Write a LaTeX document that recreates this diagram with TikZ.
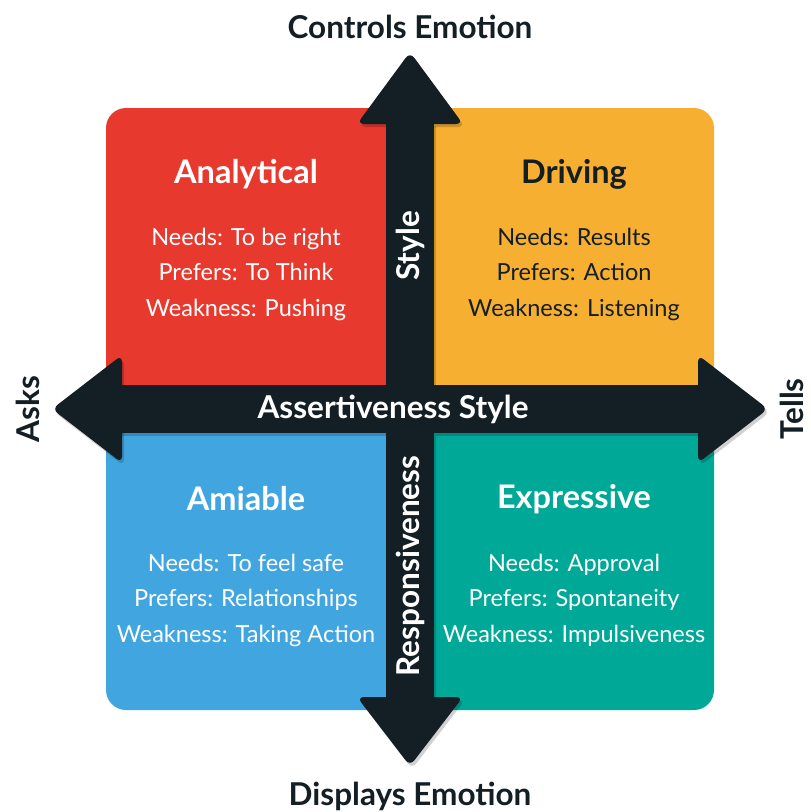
\documentclass[tikz,border=0pt]{standalone}
\usepackage{fontspec}
\setmainfont{Lato}
\usetikzlibrary{positioning}

\definecolor{analred}{HTML}{E8392F}
\definecolor{driveorange}{HTML}{F7AF32}
\definecolor{amiblue}{HTML}{41A6E0}
\definecolor{exprteal}{HTML}{00A898}
\definecolor{ink}{HTML}{131F24}

\begin{document}
\begin{tikzpicture}[x=1pt,y=-1pt,
  title/.style={font=\bfseries\fontsize{32.5}{38}\selectfont, text=#1},
  title/.default=white,
  info/.style={font=\fontsize{23.5}{35.5}\selectfont, text=white, align=center},
  axis/.style={font=\bfseries\fontsize{31.5}{36}\selectfont, text=ink},
  barlabel/.style={font=\bfseries\fontsize{31.5}{36}\selectfont, text=white},
  head/.style={rounded corners=7}]

\useasboundingbox (0,0) rectangle (811,812);

% four quadrants, outer corner rounded
\fill[analred] (410,409) -- (106,409) [rounded corners=20] -- (106,108) -- (410,108) [sharp corners] -- cycle;
\fill[driveorange] (410,409) -- (410,108) [rounded corners=20] -- (714,108) -- (714,409) [sharp corners] -- cycle;
\fill[amiblue] (410,409) -- (106,409) [rounded corners=20] -- (106,710) -- (410,710) [sharp corners] -- cycle;
\fill[exprteal] (410,409) -- (714,409) [rounded corners=20] -- (714,710) -- (410,710) [sharp corners] -- cycle;

% soft shadow under the cross
\begin{scope}[shift={(2,3)}, black, opacity=0.18]
  \fill (120,385) rectangle (700,433);
  \fill (386,123) rectangle (434,385);
  \fill (386,433) rectangle (434,698);
  \fill[head] (357,124) -- (410,52) -- (463,124) -- cycle;
  \fill[head] (357,697) -- (410,766) -- (463,697) -- cycle;
  \fill[head] (122,355) -- (52,409) -- (122,463) -- cycle;
  \fill[head] (698,355) -- (768,409) -- (698,463) -- cycle;
\end{scope}

% the cross with its four heads
\fill[ink] (120,385) rectangle (700,433);
\fill[ink] (386,123) rectangle (434,698);
\fill[ink, head] (357,124) -- (410,52) -- (463,124) -- cycle;
\fill[ink, head] (357,697) -- (410,766) -- (463,697) -- cycle;
\fill[ink, head] (122,355) -- (52,409) -- (122,463) -- cycle;
\fill[ink, head] (698,355) -- (768,409) -- (698,463) -- cycle;

% axis ends
\node[axis] (controls) at (410,27) {Controls Emotion};
\node[axis] (displays) at (410,796) {Displays Emotion};
\node[axis, rotate=90] (asks) at (28,409) {Asks};
\node[axis, rotate=90] (tells) at (792,409) {Tells};

% labels on the cross
\node[barlabel] (assert) at (393,409) {Assertiveness Style};
\node[barlabel, rotate=90] (style) at (410,246) {Style};
\node[barlabel, rotate=90] (resp) at (410,566) {Responsiveness};

% quadrant texts
\node[title] (analytical) at (246,174) {Analytical};
\node[info] (analinfo) at (246,274) {Needs: To be right\\Prefers: To Think\\Weakness: Pushing};

\node[title=ink] (driving) at (574,174) {Driving};
\node[info, text=ink] (driveinfo) at (574,274) {Needs: Results\\Prefers: Action\\Weakness: Listening};

\node[title] (amiable) at (246,499) {Amiable};
\node[info] (amiinfo) at (246,600) {Needs: To feel safe\\Prefers: Relationships\\Weakness: Taking Action};

\node[title] (expressive) at (574,499) {Expressive};
\node[info] (exprinfo) at (574,600) {Needs: Approval\\Prefers: Spontaneity\\Weakness: Impulsiveness};

\end{tikzpicture}
\end{document}
